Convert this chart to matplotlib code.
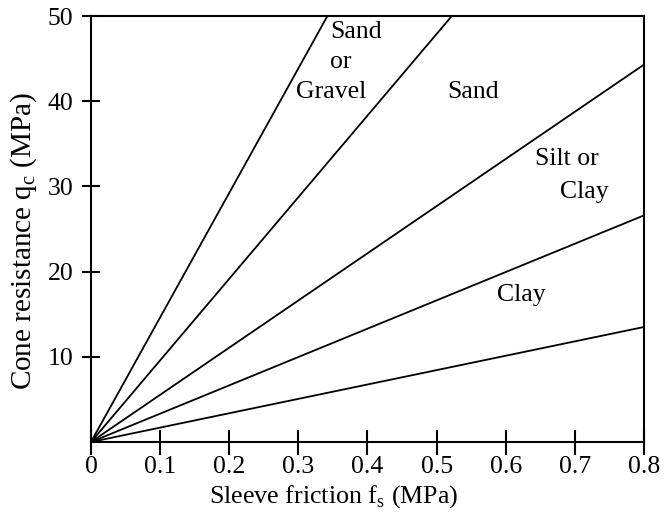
import numpy as np
import matplotlib
matplotlib.use("Agg")
import matplotlib.pyplot as plt

# soil classification boundaries, all lines start at the origin
line_ends_x = [0.342, 0.522, 0.8, 0.8, 0.8]
line_ends_y = [50, 50, 44.3, 26.6, 13.5]

x_ticks = [0, 0.1, 0.2, 0.3, 0.4, 0.5, 0.6, 0.7, 0.8]
x_tick_labels = ["0", "0.1", "0.2", "0.3", "0.4", "0.5", "0.6", "0.7", "0.8"]
y_ticks = [10, 20, 30, 40, 50]
y_tick_labels = ["10", "20", "30", "40", "50"]

# zone names and where they sit (data coords)
zone_labels = ["Sand", "or", "Gravel", "Sand", "Silt or", "Clay", "Clay"]
zone_x = [0.384, 0.362, 0.347, 0.553, 0.689, 0.713, 0.622]
zone_y = [48.1, 44.6, 41.1, 41.1, 33.2, 29.4, 17.2]

plt.rcParams["font.family"] = ["Liberation Serif", "DejaVu Serif"]
plt.rcParams["mathtext.fontset"] = "custom"
plt.rcParams["mathtext.rm"] = "Liberation Serif"

fig = plt.figure(figsize=(6.7, 5.13), dpi=100)
ax = fig.add_axes([0.1358, 0.1384, 0.8254, 0.8304])

for xe, ye in zip(line_ends_x, line_ends_y):
    ax.plot([0, xe], [0, ye], color="black", lw=1.3, solid_capstyle="butt")

for txt, tx, ty in zip(zone_labels, zone_x, zone_y):
    ax.text(tx, ty, txt, fontsize=18.5, ha="center", va="center")

ax.set_xlim(0, 0.8)
ax.set_ylim(0, 50)
ax.set_xticks(x_ticks)
ax.set_xticklabels(x_tick_labels)
ax.set_yticks(y_ticks)
ax.set_yticklabels(y_tick_labels)

for s in ax.spines.values():
    s.set_linewidth(1.5)
ax.tick_params(axis="x", direction="inout", length=18, width=1.5,
               labelsize=18.5, pad=1)
ax.tick_params(axis="y", direction="inout", length=13, width=1.5,
               labelsize=18.5, pad=6)

fig.text(24 / 670, 1 - 241 / 513, "Cone resistance q$_\\mathrm{c}$ (MPa)",
         rotation=90, ha="center", va="center", fontsize=21)
fig.text(334 / 670, 1 - 497 / 513, "Sleeve friction f$_\\mathrm{s}$ (MPa)",
         ha="center", va="center", fontsize=18.7)

fig.savefig("out.png", dpi=100)
